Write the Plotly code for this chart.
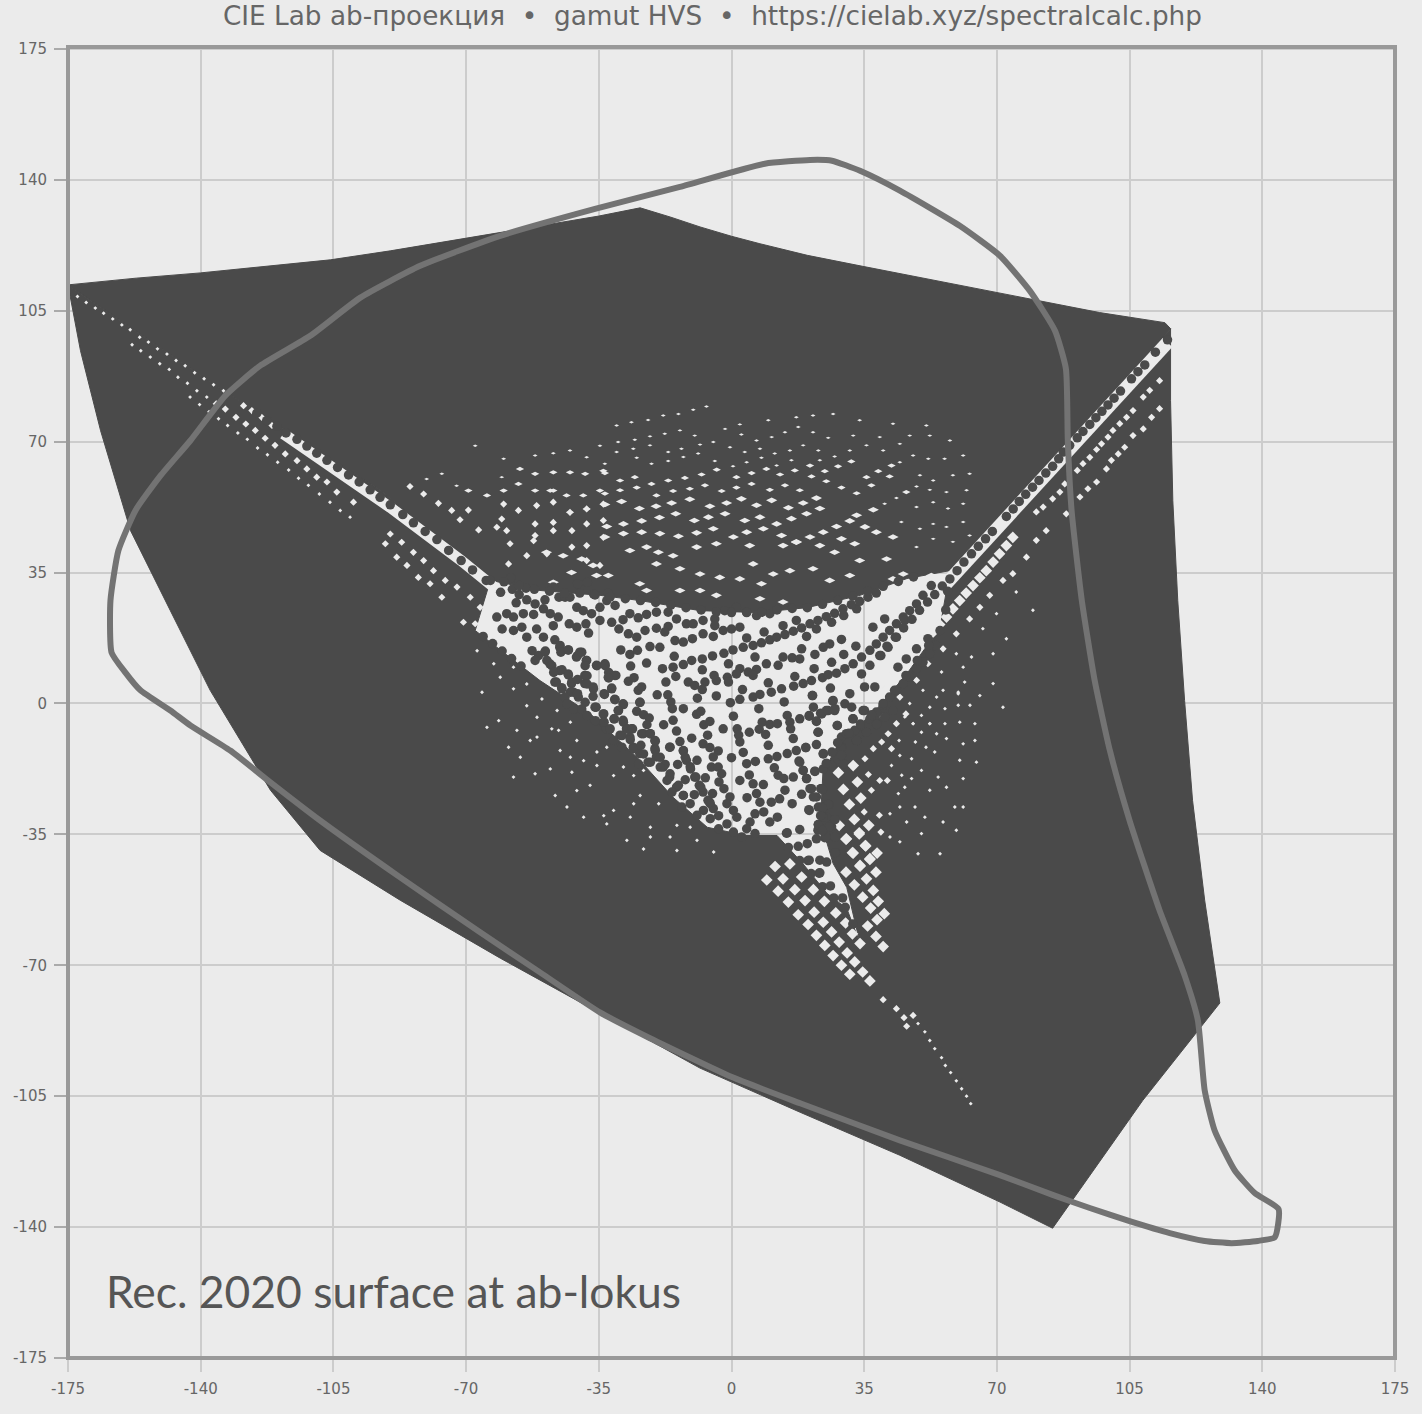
import plotly.graph_objects as go

TITLE = "CIE Lab ab-проекция\u00a0\u00a0•\u00a0\u00a0gamut HVS\u00a0\u00a0•\u00a0\u00a0https://cielab.xyz/spectralcalc.php"
LABEL = "Rec. 2020 surface at ab-lokus"
TICKS = [-175, -140, -105, -70, -35, 0, 35, 70, 105, 140, 175]

# spectral locus (a*, b*)
LOCUS_A = [144.3,143.3,138.8,131.9,124.8,115.6,105,94.5,84.7,70.8,44.4,18.1,0.1,-21.5,-34.7,-50.5,-66.3,-87.4,-108.5,-121.6,-132.2,-142.7,-148,-155.9,-159.9,-163.5,-163.8,-161.7,-157.2,-150.6,-142.7,-133.5,-124.3,-111.1,-97.9,-82.1,-61,-36,-13.6,8.8,20.7,26.5,33.9,44.4,60.2,70.8,78.7,85.3,88.2,88.7,89.7,92.4,95.8,99.8,105,112.9,119.5,123,124.8,127.4,132.7,138,144.3]
LOCUS_B = [-135.2,-142.7,-143.7,-144.3,-143.7,-141.6,-138.4,-134.9,-131.4,-126.1,-116.8,-106.9,-99.9,-89.5,-82.6,-71.9,-61.2,-46.5,-31.3,-21.1,-12.6,-5.9,-1.9,3.5,8.3,13.6,27.5,40.9,51.6,60.9,70.3,82.3,90.3,98.3,108.5,117,125,132.2,138.1,144.3,145.3,145.1,142.4,137.1,127.7,119.7,110.3,99.7,89.5,70.3,51.6,27.5,6.1,-12.6,-31.3,-55.3,-72.7,-84.7,-103.4,-114.1,-124.8,-130.9,-135.2]

# surface outline, upper part
TOP_A = [-175,-157,-140.1,-122,-105.8,-90,-74.2,-60,-45.2,-35,-24.1,-16,-8.3,0,7.5,20,33.9,50,70.8,85,97.1,114.3,115.8,70,57.6,46.3,33.9,19.9,6.7,-8.3,-24.1,-34.7,-50.5,-63.6,-92.6,-134.8,-175]
TOP_B = [111.9,113.7,115.1,117,118.6,121,123.7,126,128.5,130.3,132.5,130,127.4,124.9,122.9,119.8,117,113.8,109.8,107,104.5,101.8,100.2,48.9,35.5,33.4,28.9,25.6,24.3,24.8,27.5,28.9,30.2,32.9,56.9,84.2,111.9]

# surface outline, lower part
LOW_A = [115.8,115.8,116.4,117.7,119.5,121.6,124.8,128.8,108.5,84.7,70.8,44.4,18.1,-8.3,-34.7,-61,-87.4,-108.5,-121.6,-137.5,-148,-158.5,-166.4,-171.7,-175,-134.8,-92.6,-63.6,-67.6,-50.5,-37.3,-24.9,-15.4,-6.4,3.6,12,18.8,25.2,30.4,33.9,30.4,26.8,25.2,23.3,24.1,28.6,37.3,46.3,55,57.6,70,115.8]
LOW_B = [100.2,81,54.2,27.5,0.8,-25.9,-52.6,-80.1,-106.1,-140.3,-133.3,-120.8,-109.3,-97.5,-82.8,-68.1,-52.6,-39.3,-23.2,3.5,24.8,46.2,72.9,94.3,111.9,84.2,56.9,32.9,19.5,6.1,-2.7,-14.4,-25.1,-33.1,-35.3,-35.3,-42.8,-50.8,-54.8,-64.1,-49.2,-42.8,-37.4,-33.9,-18.7,-9.9,-2.7,8,20.3,35.5,48.9,100.2]

# light gaps that run along the two long ridges
GAP1_A = [-118.2,-90,-71.3,-61]
GAP1_B = [72.1,52.4,38.2,29.7]
GAP2_A = [115,72.5,59,39]
GAP2_B = [96.5,50,35,12.5]

# points of the sampled surface in the open middle and on the ridges
DOT_A = [-58.2,-57.8,-54.2,-54,-51.8,-49.2,-56.8,-56,-60.9,-47,-47.8,-49.6,-52.2,-45.5,-43.9,-42.6,-40.6,-38,-36.4,-32.6,-32.9,-30.7,-34.7,-40.8,-39.1,-36.9,-34.7,-31.6,-47,-45.7,-42.8,-40.8,-38.4,-37.7,-59.3,-61.9,-54.9,-57.5,-55.3,-51.4,-54,-60.5,-57.5,-49.6,
-46.6,-45.3,-43.1,-49.2,-40,-40.9,-47.9,-45.3,-43.1,-38.2,-35.6,-33.4,-32.5,-30.8,-38.7,-46.6,-42.2,-38.7,-36.5,-44.8,-41.7,-40.4,-36.5,-31.6,-33.6,-36,-30.8,-28.6,-33.8,-29.9,-31,-33.8,-33,-28.6,-27.7,-26.4,-29.4,-23.7,-21.5,-20.2,-26.8,-25.9,-20.2,-24.2,-19.8,-22,-18,-16.3,-14.5,-12.7,
-26.8,-24.6,-22.4,-28.6,-29.7,-27.2,-25,-22.8,-19.8,-16.7,-17.6,-21.5,-18.9,-29.2,-26.8,-24.8,-22.4,-26.6,-18.2,-15.1,-15.4,-14.7,-17.3,-27.2,-25.7,-24.6,-23.7,-12.7,-10.5,-7.7,-7.7,-5,-2,-0.8,2.2,0.4,3.1,5.7,7.9,10.1,-11.4,-9.7,-7,-7.7,-4.6,-4,-1.1,-0.8,1.3,4.4,6.6,5.7,2.9,-9,-4,-0.3,2.2,-19.6,-16.8,-16,-15.6,-24.2,-12.7,-14.9,-12.7,-10.3,-7.5,-4.8,-2.2,0,2.2,4,8.6,6.2,-19.8,-16.7,-14.5,-11.9,-10.1,-7.5,-4.4,-4.4,-1.8,1.3,4,6.6,10.1,13.6,17.1,
0.5,-9.2,-8.1,-7.3,-5.7,-2.2,-17.9,-15.4,-14.5,-13.6,-16.3,-10.5,-7.5,-6.3,-5.7,-3.5,0,-4.8,-5.3,-3.5,-2.6,-9.1,-14.2,-6.9,-12.2,-12.7,-11.9,-10.8,-9.7,-8.5,-7.5,-6.2,-4.8,-9.8,-5,-3.3,-2,-0.4,2.2,1.5,1.9,2.2,3.1,4,4.7,5.7,6.6,7.5,8.5,10.1,4.1,6.2,8.4,10.5,12.7,12.1,14.7,
4.7,7.3,8.1,10.1,12.1,9,9.7,6.3,9.7,12,14.7,17.1,19.6,22.4,11.3,12.3,13.8,16.3,14.1,16,18.5,20.5,18.9,19.8,21.1,22.4,23.7,25,26.4,22.8,18,17.8,22,23.6,25.7,27.2,
14.7,15.4,15.6,16.3,18,20.5,23.5,22.4,22.8,24.2,29,33,27.9,25,27.2,29.9,32.1,35.1,26.8,21.3,13.9,7.2,5.7,7.5,10.5,13.2,16.4,18.9,21.1,24,25.5,27.7,29.9,32.1,34.3,36.5,38.2,40,41.7,43.5,45.3,47,48.8,50.5,52.7,
9.7,16.7,21.8,26.1,26.4,29.6,32.8,13.6,16,18,18.5,22,19.8,22.4,26.4,29.6,33,25.9,29,24.2,9.2,12.3,
11.9,14.1,16.3,18.5,20.7,22.8,25,27.2,29.4,31.6,33.8,36,38.2,
29,30.3,32.5,34.3,36.5,38.2,40,41.7,43.5,45.3,47,48.8,50.5,52.3,54,
37.3,40.4,43.5,45.7,34.3,36.5,39.1,41.3,43.9,46.1,48.8,51.8,37.8,35.1,31.2,35.6,38.2,40.4,42.6,
57.6,55.6,53.6,51.7,49.6,47.6,45.4,43.2,41,39.4,
14.5,17.6,20.2,23.1,26.1,29.3,22.9,24.6,27.5,
-125.2,-122.6,-119.9,-117.5,-114.6,-112,-109.4,-106.7,-103.9,-101,-98.2,-95.3,-92.7,-90,-86.7,-83.9,-80.8,-77.7,-74.6,-71.3,-68.3,-64.7,
115,111.8,109,107.2,105.5,102.6,100.9,99.3,97.7,96.1,94.5,92.7,91.2,89.2,87.5,86.3,84.7,82.9,81.1,79.4,77.6,75.9,74.3,72.5,68.8,67,65.1,63.3,61.3,59.5,
21.4,26.7,21.6,23.8,25.5,27.3,20.5,22.4,27.9,32,34.7,31.7,22.9,19.6,24.2,28.9,33,35.6,38.3,18,22,25.1,24.2,26.4,29.5,29,23.6,25.5,20.4,27.3,22.9,22.4,20,24.9,27.3,23.3,25.1,20.5,23.3,18.9,19.8,20.7,21.6,22.9,24.2,25.8,27.3,
-52.6,-50.9,-49.1,-51.8,-48.7,-47.4,-46.9,-44.7,-43,-46.2,-44.7,-42.1,-40.6,-38.1,-38.1,-36.4,-42.5,-40.6,-43.9,-43.4,-38.6,-41.6,-39.5,-35.7,-38.1,-33.7,-35.9,-33.6,-32,-31.1,-28.9,-26.7,-28.9,-25.8,-23.9,-23.2,-24.5,-20.1,-18.8,-21.4,-17.5,-18.8,-16.2,-17,-14,-15.7,-12.7,-10.9,-13.1,-7.4,-9.1,-5.6,-3.4,-5.6,-1.2,-3.4,0.5,2.7,4.9,6.2,4,1.4,-1.2,0.5,
-45.2,-45,-43,-40.6,-39.5,-38.3,-38.6,-35.5,-33.3,-32.4,-30.5,-32.4,-31.6,-33.5,-30.7,-28.5,-29.8,-30.9,-25,-24.1,-23.2,-21.7,-22.3,-28.5,-27.6,-26.1,-23.2,-21.4,-20.1,-16.2,-12.7,-12.2,-10.9,-9.4,-8.1,-5.8,
-63.6,-60,-56,-52,-48,-44,-40,-36,-32,-28,-24,-20,-16,-12,-8,-4,0,4,8,12,16,20,24,28,32,36,40,44,48,
-65.5,-63,-60.5,-58,-55.5,
25,26.5,28,31,34,37,40,43,46,49,52,55,56.5,57,15,18,21,24,27,30,32,24,24,23.5,24]
DOT_B = [33.6,30.5,30.8,27.7,26.6,27.7,26.9,29.1,29.7,31.1,24,25.3,23.8,28.4,28.4,28.4,32,32.4,29.3,29.5,27.5,26.2,25.7,25.7,24.8,24,22.2,21.7,20.8,23.1,21.3,20.4,21.3,18.8,24,23.1,24,23.1,20.4,19.9,17.7,19.9,19.5,17.7,
17,15,14.3,13.7,13.7,12.4,10.6,8.8,7.9,11.5,10.2,10.6,7,7.5,7.5,5.7,5.3,5.3,4.4,4.2,3,1.7,1.9,4.1,2.6,-1,1.1,-0.1,-2.8,-1.9,-4.1,-5,-6.8,-4.5,-6.8,-6.8,-8.5,-8.1,-8.1,-9.9,-9,-11.7,-12.1,-13.4,-14.3,-15.7,-17,-19.7,-22.4,-24.6,
24,22.9,23.8,22.4,19.9,18.6,17.7,19.5,20.1,20.6,19.1,15.2,15,14.3,13.1,14.2,10.8,10,9.3,12.6,9.7,7.2,5.7,5.9,6.9,3.5,4.4,10.4,11.5,11.9,9,12.7,13.4,10.6,9.3,14.3,15,15.5,16.2,17,5.7,4.8,5.7,3.7,7.5,6.1,7,5.7,7.9,8.4,9.1,7.5,3.7,1.4,2,0.2,1.1,2.3,2.3,0.4,-1.4,0.3,-1.4,16.8,16.4,17.3,18.6,17.9,19.5,19.9,20.4,17.5,19.1,12.4,24.4,24.4,22.6,21.3,21.3,22.2,22.6,20.8,24.8,25.7,24.4,23.5,24,20.8,22.2,
-3.4,-2.9,-2.1,-5.7,-4.8,-6.8,-5.7,-4.5,-7.4,-10.2,-11.7,-9.3,-10.8,-8.5,-11.8,-12.7,-14.5,-14.3,-17,-17,-18.8,-15.2,-16.3,-19.9,-20.4,-12.7,-15.2,-17.5,-19.7,-21.9,-23.7,-25.9,-28.1,-24.4,-24.1,-21,-22.8,-25,-20.6,-6.8,-8.5,-10.3,-13.1,-16.1,-19.1,-21.5,-24.1,-26.4,-29,-31.7,-25.2,-29.5,-21.7,-26.4,-25.5,-30.4,-34.6,
-7.7,-6.9,-5,-5.6,-5.4,-8.3,-11.2,-15.5,-14.8,-14.2,-13.4,-12.6,-11.8,-11,-17.2,-19.2,-20.1,-19.7,-23.2,-26.8,-24.3,-28.6,-17.9,-20.1,-22.8,-25,-27.7,-30.4,-33,-33.9,-33.7,-15.4,-18.1,-22.8,-27.2,-31.1,
-3.2,-5,-6.8,-9.4,-4.1,-3.2,-2.6,-4.7,-7.7,-13.4,-11.7,-9.9,-5.9,-1.9,-1.9,-0.1,-4.1,-1.9,0.8,2.1,0.4,-1.4,1.7,2.4,3,3.9,4.6,5.3,6.1,6.9,7.7,8.1,9.3,10.6,12.4,14.2,15.9,17.7,19.5,21.3,23.1,24.8,26.6,28.9,31.5,
5.5,7.2,9.3,4.1,11,13.1,15.3,12.4,12.2,11.9,14.6,13.1,17.9,19.9,21.7,23.5,25.3,15.9,17.1,15,10.6,10.2,
17.7,18.4,19.3,20.2,21.3,22.2,23.2,24.1,25.3,26.4,27.3,28.4,29.5,
-9,-8.1,-7.2,-5.9,-4.1,-2.3,-0.5,1.7,3.5,5.3,7,9.3,11,13.3,15.5,
20.4,22.6,17.7,22.2,7.9,10.2,12.8,15,9.7,11.9,14.6,17.3,4.4,4.4,2.6,-7.7,-5.4,-3.7,-1.9,
33.3,31.4,29.1,27.1,24.9,22.5,20.2,17.7,15.3,12.8,
-34.7,-38.2,-42,-45.4,-48.8,-52,-32.4,-35.9,-39.9,
77.6,75.6,74.1,72.3,70.6,68.8,66.9,65,63.1,61.1,59.2,57.1,55.1,53.1,50.5,48.3,46,43.8,40.9,38.2,35.7,32.9,
97.2,93.9,90.5,88.7,86.8,83.5,81.6,79.8,78.1,76.4,74.6,72.7,71,69,67.2,65.4,63.4,61.6,59.6,57.8,55.9,54,52,50,46,44,42,40,37.8,35.5,
2.1,0.6,-1,-2.8,-1.9,-1.4,-3.4,-4.8,-5.9,-4.1,-1.9,-1,-7.7,-11.8,-13.5,-11.9,-9.9,-7.7,-5.6,-15.7,-18.2,-16.1,-17.5,-16.6,-16.1,-13.9,-22.8,-27,-28.4,-31,-32.4,-36.2,-37.5,-35.7,-39.9,-41.9,-42.4,-41.9,-45.3,-17.9,-20.1,-22.8,-25,-27.7,-30.4,-33,-35.7,
14.1,12.8,14,11.5,11.5,10.1,8.3,9,7.6,5.7,3.9,5.7,6.4,7.4,5.2,3.9,3,2.6,1.7,-0.1,0.3,-1.5,-1.5,-1,-3.2,-2.8,-4.6,-5,-6.8,-9.9,-8.6,-9.7,-11.7,-12.1,-11.2,-13.5,-16.2,-12.6,-14.4,-15.7,-16.3,-17,-18.8,-20.6,-21.9,-23.7,-24.6,-26.8,-27.7,-28.6,-29.9,-26.8,-30,-30.8,-32.2,-33.5,-34.4,-35.7,-31.7,-34.8,-33.5,-30.4,-26.8,-28.6,
15.5,13.7,14.3,12.8,13.7,11.5,10.1,10.1,10.1,8.3,7.5,6.8,3.9,2.4,1,-0.3,-1.9,-4.1,-2.1,0.3,-3,-3.9,-5.7,-5,-6.8,-6.8,-8.1,-8.1,-10.1,-11.7,-12.6,-14.4,-16.9,-19.7,-22.4,-26.4,
32.9,32.5,31.5,30.5,30,29.5,29.5,29,28.5,28,27.5,27,26.3,25.6,25,24.5,24.3,24.3,24.4,25,25.4,25.6,26.5,27.5,28.7,30,31.3,32.6,33.8,
17.9,16,14,12,10,
-16,-13,-10.5,-8,-5.5,-3,0,3.5,7.5,11.5,15.5,19.5,25,30,-38.5,-42,-45.5,-49,-52,-54.5,-59,-23,-28,-30,-34]

# light gaps in the dense zones, from largest to smallest
GAP_L_A = [32.1,28.2,29.5,33.2,31.1,34.1,32.4,28.4,33.7,30.2,31.9,33.9,30.2,36.2,35.4,36.5,
11.5,15.4,13.6,18.5,9.3,16.7,21.6,12.3,19.4,24.5,15,21.8,27.5,17.6,24.2,30.1,20.2,26.4,31.9,22.4,28.4,33.9,24.6,30.5,26.8,32.5,29,34.6,31.2,36.5,
74.2,70.7,67.2,63.7,60.2,56.7,53.2,49.6,45.7,41.3,39.5,72.5,69,65.5,61.9,58.4,54.9,51.4,47.6,43.5,
30.3,33.7,32.1,35.3,33.9,36.5,35.6,38.4,32.4,38.1,34.6,37.4,38.7,36.7,38.4,40.3,35.9,38.1,40]
GAP_L_B = [-16.6,-18.5,-23,-21,-27,-25.3,-31,-32.6,-34.6,-36.3,-39.9,-43.5,-45.1,-32.6,-38.1,-41.5,
-43.6,-42.9,-46.9,-46.4,-47.2,-49.8,-49.8,-50.2,-52.7,-52.9,-53.1,-55.8,-56,-56.5,-58.5,-58.7,-59.1,-61.1,-61.6,-62,-63.8,-64.2,-64.7,-66.7,-67.4,-69.1,-70,-71.8,-72.4,-74.2,
44.4,40,35.5,31.5,27.5,23.1,19.1,15.1,11.5,7,5.3,42.2,37.8,33.6,29.5,25.3,21.1,17,13.3,9.3,
-36.2,-34.9,-40,-38,-43.3,-41.7,-46.9,-40,-48.5,-45.1,-51.8,-50,-52.9,-54.7,-57.8,-56.2,-59.5,-62.3,-65]

GAP_M_A = [-99.7,-104.1,-106.7,-109.4,-112,-114.6,-117.7,-120.4,-123,-125.6,-128.1,-130.7,-133.5,-135.9,
-90,-87,-83.9,-81.2,-78.6,-75.5,-72.4,-68.9,-66.3,-63.7,-91.3,-88.3,-85.6,-82.6,-79.5,-76.4,-70.7,-67.6,
-84.8,-81.2,-77.3,-73.8,-69.4,-71.6,-66.7,-61.9,-60.6,-60.1,-56.2,-51.8,-51.4,-47,-47,-42.1,-42.6,-38.2,-38.2,-33.8,-33.8,-59.3,-58.4,-51.8,-42.1,-38.2,-47,-54,-58.8,-52.2,-48.7,-38.2,-33.8,-34.7,
112.9,110.8,108.6,105.9,103.7,102,100.2,98.9,96.3,94,91.9,88.3,83,80.4,77.8,74.2,71.6,68.1,65.5,62.8,59.3,55.8,51.8,48.8,44.4,40,
112.9,110.3,108.6,105.9,104.2,102.4,100.6,99.3,97.6,96.3,94.5,92.7,91.2,87.9,86.6,84.7,82.2,80.4,
40,43.5,45.5,46.2,47.9,
36.1,35.2,36.9,35,39,39.4,38.5,38.1,41.1,39.1,37.4,42.2,39.6,41.3,43.5,46,
-128.7,-126.5,-123.9,-121.2]
GAP_M_B = [53.8,56.5,59.2,60.5,62.7,64.9,66.7,69,70.9,73,74.7,76.5,78.7,80.1,
45.3,43.1,40.4,38.2,35.5,32.9,31.1,28.4,25.7,23.1,42.7,39.1,36.9,33.7,32,28.4,21.7,21.3,
58,56,53.5,51.6,51.7,49.1,46.4,47.1,49.3,53.3,51.6,48,52.9,48.4,53.8,46.2,51.1,48,52,48.9,53.3,46.2,42.7,44.9,41.8,42.2,46.2,39.5,37.3,43.5,40,38.2,44.4,36.9,
78.8,76.5,73.4,71.6,68.5,66.7,65,62.7,59.2,57.4,55.2,50.7,46.2,43.6,39.1,34.7,32.9,28.9,25.7,22.6,18.6,14.6,10.6,6.2,1.7,-3.6,
86.3,83.7,81.9,78.3,76.5,74.8,73,71.2,69.4,67.9,65.8,64.1,62.3,58.7,56.5,54.7,52.5,51.2,
-79.2,-81.6,-84,-86.3,-83.4,
-19,-14.8,-23.2,-29,-29.9,-34.4,-40.2,-45.1,-20.6,-20.6,-12.1,-12.1,-10.3,-8.1,-5.4,-2.8,
79.6,78.3,76.5,74.3]

GAP_S_A = [-134,-136.6,-139.1,-141.6,-144.1,-146.5,-148.9,-151.4,-153.8,-156.1,-158.6,-160.8,-163.2,-165.6,-167.8,-170.2,-172.5,
-138.4,-141,-143.5,-146,-148.3,-150.8,-153.3,-155.8,-158.1,
-100.6,-103.2,-105.9,-108.7,-111.6,-114.2,-116.8,-119.7,-122.4,-125,-127.7,-130.2,-132.9,-135.3,-137.8,-140.3,-142.8,
47,50.5,52.3,55.8,59.8,61.5,69,71.6,45.7,41.7,47.9,52.3,61.1,55.4,59.3,63.3,69,72.5,79.5,66.3,69.9,75.1,
49.2,51,52.3,53.6,55.4,56.4,57.8,59.3,60.7,62,63.1,
41.8,44,44.4,47.5,44.2,47.9,50.1,52.3,50.1,48.5,51.3,53.6,42.2,44.9,47.5,50.1,52.3,54.5,45.7,48.4,51,44.4,41.8,46.2,50.1,44.4,49.2,55,59.3,55.8,61.1,58.9,56.7,61.1,64.6,60.2,56.7,61.1,64.2,54.1,56.3,60.2,64.2,56.3,59.8,62.9,54.1,59.8,65.5,
-65.8,-61,-57.5,-54,-50,-51.3,-46,-42.5,-47.4,-51.3,-56.6,-61.4,-64.5,-58.8,-53.1,-45.6,-40.8,-45.2,-42.5,-39,-35.5,-47.8,-51.8,-57.5,-55.7,-42.1,-31.1,-37.3,-40.8,-46.5,-28.5,-25.8,-35.5,-32.9,-23.2,-24.1,-31.1,-25.8,-19.2,-33.7,-39,-26.7,-32.9,-21.4,-14.4,-27.6,-21.4,-16.2,-10.9,-23.2,-9.1,-4.7,-14.4,-57.5,-62.7,-67.1,-54,-43.4]
GAP_S_B = [83.6,85.2,86.8,88.4,90.3,91.7,93.4,94.8,96.6,97.9,99.9,101.2,102.8,104.3,105.7,107.2,108.8,
81.9,83.6,85.6,87.2,89.3,90.8,92.6,94.3,95.9,
49.8,51.6,53.8,56,58.3,60.2,62.4,64.5,66.5,68.3,70.6,72.3,74.3,76.1,78,79.9,81.9,
0,3.5,-1,3.5,3,5.7,5.3,-1,-3.6,-8.1,-5.4,-5.4,9.7,8.4,13.3,12.4,13.3,17.3,24.9,20,24,29.8,
-85.6,-87.8,-90.1,-92.3,-94.7,-96.8,-98.7,-100.9,-103,-105,-107,
-35.7,-24.1,-13.9,-14.8,-9.9,-5.4,-3.2,-5.4,-7.7,-10.3,-11.7,-13,-16.6,-19.2,-20.1,-17.9,-23.2,-19.7,-22.4,-27.7,-30.4,-27.7,-29.5,-31.7,-34.8,-37,-40.2,-40.2,-33.9,-31.7,-27.7,-27.7,-22.4,-20.1,-15.7,-15.2,-9.4,-10.8,-9.9,-8.1,-5.4,-5,-5.4,-1.4,-0.5,-0.5,1.7,2.6,2.1,
3,7,3.9,-0.6,1.2,-3.7,-1.9,-5,-6.8,-9,-7.2,-4.6,-6.4,-11.7,-9.9,-7.2,-9.9,-12.6,-14.4,-15.3,-13,-17.5,-18.8,-19.7,-14.4,-18.4,-19.3,-21.9,-23.3,-24.6,-17,-19.3,-16.6,-11.7,-17.9,-24.6,-28.6,-26.8,-26.8,-30,-30.4,-30.4,-32.2,-33.1,-32.6,-36.6,-35.7,-35.7,-33.1,-38.9,-36.6,-39.7,-39.3,9.7,10.6,14.1,5.2,-27.7]

# flat flecks in the upper face, by size
FLECK_L_A = [-33.4,-28.5,-23.7,-18.9,-14,-9.2,-4.8,0.5,4,8.4,13.2,17.1,20.7,24.2,29,32.5,38.2,42.6,-32.9,-28.5,-23.7,-19,-14.7,-9.8,-6.1,-1.7,3.5,7.5,11.9,15.8,19.8,23.3,27.7,31.2,35.2,37.4,33,-33.4,-29,-24.3,-19.9,-15.8,-11,-5.7,-1.3,2.6,6.6,10.6,15,18.9,22.4,
-48.8,-44.4,-39.5,-36.5,-32.5,-26.8,-22.4,-19.3,-15.4,-9.2,-4,4.8,5.7,13.6,17.1,23.3,27.2,33.8,40.9,45.3,52.7,42.6,31.2,25.9,21.5,15.4,11,7.9,2.2,-3.1,-8.3,-13.6,-19.8,-24.2,-22.4,-13.6,-8.3,-4,7.5,13.6,-35.6,-47,-42.2]
FLECK_L_B = [44.5,45.4,45.8,45.4,44.7,45.6,46.7,44.5,45.8,46.7,44.9,43.2,44.5,45.8,44,42.7,45.8,44.5,47.3,48,48.8,49.7,50.7,48.9,49.8,50.7,48.9,49.8,48,49.4,50.7,52.1,47.3,48.8,47.2,51.8,50.3,53.2,54,52.1,52.7,53.6,54.6,52.7,53.6,54.7,53,54.3,52.3,53.6,54.9,
40.4,39.5,38.6,36.9,34.2,40.9,41.8,40.4,39.5,41.8,42.7,42.2,37.3,42.2,43.1,42.2,40.4,38.2,38.6,34.6,34.2,33.3,34.2,32.9,36,35.5,34.6,32,33.3,33.7,34.6,36,37.3,32,30.2,30.2,30.2,28.9,28,27.1,34.2,32.4,35]
FLECK_M_A = [-33.4,-29.4,-25,-19.8,-15.4,-11,-7,-2.6,1.3,5.3,10.1,14.1,18,21.1,25,29,33,36.9,41.7,46.1,-33.4,-29.4,-25.5,-21.1,-16.7,-12.3,-7.9,-3.9,1.3,5.3,9.2,12.8,16.7,20.7,24.6,28.1,31.6,35.6,38.7,42.2,
-47,-42.6,-38.6,-33.8,-51.8,-55.8,-47,-42.6,-38.2,-34.7,-39.1,-43.5,-47.8,-51.8,-56.2,-60.1,-64.5,-69.4]
FLECK_M_B = [56.1,57,57.7,55.6,56.8,57.4,58.3,56.8,57.7,58.7,57.1,58.3,57,60.7,59.4,57.7,56.2,58.3,60.7,56.5,61.6,59.6,60.5,58.7,59.6,60.3,61.2,62.5,60.5,61.6,62.7,61.2,62.3,63.6,62.1,63.4,64.7,60.5,62.1,63.6,
61.8,61.8,61.4,62.2,61.4,62.7,56.9,51.1,52,56.9,55.6,55.6,56.9,56.9,58.7,56.9,55.6,56.9]
FLECK_S_A = [-33.4,-25,-21.1,-16.7,-12.7,-8.8,-4.4,0.4,4,7.9,11.9,15.8,23.3,27.2,22.9,-30.3,-25.9,-21.5,-16.7,-13.2,-8.3,-4.8,-0.4,3.5,7.5,11.4,15.4,18.9,
-29.9,-25.5,-21.5,-17.6,-13.6,-9.7,-1.7,2.6,6.6,10.6,14.1,17.6,21.5,25.5,-30.3,-26.4,-22,-18,-14,-10.1,-6.6,2.2,9.7,17.1,
-76.4,-80.4,-60.6,-60.1,-67.6,-47,-42.6,-34.7,-38.2,-51.8,-72.5,
48.8,53.2,58.4,62.8,44.8,49.7,53.2,56.7,61.1,40.4,43.5,48.8,53.2,57.1,61.1,48.8,52.3,56.7,62,49.7,53.2,58.4,62.8,44.4,47.9,51.9,56.2,61.1,35.6,40,44.4,31.2,32.1,39.1,47,52.3,57.6,33.8,26.8,21.5,42.6,51.4]
FLECK_S_B = [64.1,65.7,64.1,64.8,65.9,66.8,64.8,63.4,64.5,65.7,63.6,65,65,66,67.6,67.2,68.1,69,67.2,68.1,69.2,69.9,68.5,67.2,68.1,66.8,67.6,69,
69.9,70.5,71.4,72.1,73,71.6,73.4,71.9,70.3,71.2,72.5,73.9,72.5,71,74.3,75.2,75.8,77,77.4,78.5,79.4,74.6,75.7,76.5,
61.4,60,60.5,65.4,68.9,66.9,67.6,68.9,65.8,66.3,58.2,
41.8,44,43.2,44.9,48.5,46.7,48,47.2,48.5,53.4,54.9,52.5,53.8,52.1,53.4,58,57.1,56.5,57,61,59.6,61,61.4,64.5,66.3,65.4,65.4,66.3,69,67.6,69.4,67.6,71.6,71.2,71.6,71.6,70.3,75.7,77.4,77,74.8,74.3]

DARK = "#4a4a4a"
LIGHT = "#ebebeb"
fig = go.Figure()
for xs, ys in ((TOP_A, TOP_B), (LOW_A, LOW_B)):
    fig.add_trace(go.Scatter(x=xs, y=ys, mode="lines", fill="toself", fillcolor=DARK,
                             line=dict(color=DARK, width=1), hoverinfo="skip", showlegend=False))
for xs, ys, w in ((GAP1_A, GAP1_B, 11), (GAP2_A, GAP2_B, 13)):
    fig.add_trace(go.Scatter(x=xs, y=ys, mode="lines", line=dict(color=LIGHT, width=w),
                             hoverinfo="skip", showlegend=False))
for xs, ys, s, sym in ((GAP_L_A, GAP_L_B, 9, "diamond"), (GAP_M_A, GAP_M_B, 5.5, "diamond"),
                       (GAP_S_A, GAP_S_B, 3, "diamond"), (FLECK_L_A, FLECK_L_B, 8, "diamond-wide"),
                       (FLECK_M_A, FLECK_M_B, 6, "diamond-wide"), (FLECK_S_A, FLECK_S_B, 3.5, "diamond-wide")):
    fig.add_trace(go.Scatter(x=xs, y=ys, mode="markers", hoverinfo="skip", showlegend=False,
                             marker=dict(color=LIGHT, size=s, symbol=sym, line=dict(width=0))))
fig.add_trace(go.Scatter(x=DOT_A, y=DOT_B, mode="markers", hoverinfo="skip", showlegend=False,
                         marker=dict(color=DARK, size=9.5, line=dict(width=0))))
fig.add_trace(go.Scatter(x=LOCUS_A, y=LOCUS_B, mode="lines", hoverinfo="skip", showlegend=False,
                         line=dict(color="#737373", width=6, shape="spline", smoothing=0.5)))

axis = dict(tickvals=TICKS, ticktext=[str(t) for t in TICKS], showgrid=True, gridcolor="#cccccc", gridwidth=2,
            zeroline=False, showline=False, ticks="outside", ticklen=13, tickwidth=2, ticklabelstandoff=4,
            tickfont=dict(family="DejaVu Sans", size=15, color="#666666"))
fig.update_layout(width=1422, height=1414, autosize=False, paper_bgcolor=LIGHT, plot_bgcolor=LIGHT,
                  margin=dict(l=68, r=27, t=47, b=56), showlegend=False,
                  xaxis=dict(axis, range=[-175, 175], tickcolor="#cccccc"),
                  yaxis=dict(axis, range=[-175, 175.5], tickcolor="#aaaaaa"),
                  shapes=[dict(type="rect", xref="paper", yref="paper", x0=0, x1=1, y0=0, y1=1, layer="above",
                               line=dict(color="#999999", width=4), fillcolor="rgba(0,0,0,0)")],
                  annotations=[
                      dict(text=TITLE, xref="paper", yref="paper", x=0.486, y=1.0, yshift=31, xanchor="center", yanchor="middle",
                           showarrow=False, font=dict(family="DejaVu Sans", size=26.3, color="#666666")),
                      dict(text=LABEL, xref="x", yref="y", x=-165.4, y=-157, xanchor="left", yanchor="middle",
                           showarrow=False, font=dict(family="Lato", size=44.4, color="#555555")),
                  ])
fig.write_html("out.html", config={"displayModeBar": False}, post_script="document.body.style.margin='0';")
